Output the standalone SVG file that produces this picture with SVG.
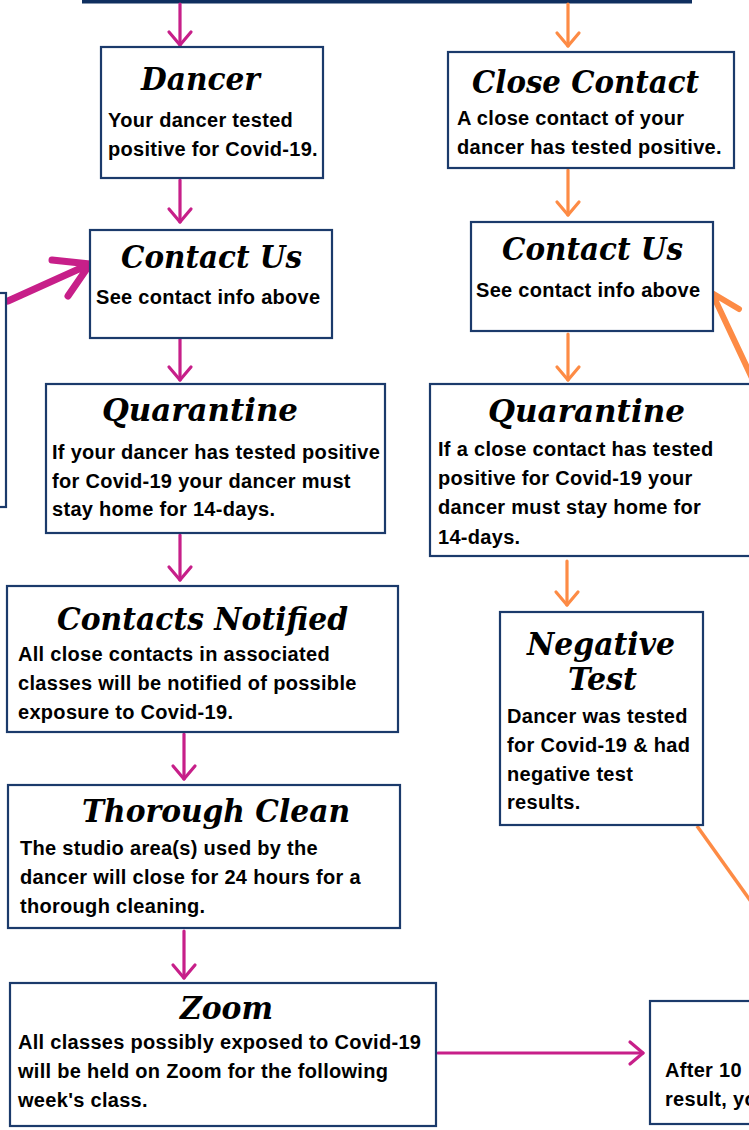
<svg xmlns="http://www.w3.org/2000/svg" width="749" height="1130" viewBox="0 0 749 1130">
<style>
.box{fill:#fff;stroke:#1b3a6b;stroke-width:2.2}
.ttl{font-family:"DejaVu Serif","Liberation Serif",serif;font-weight:bold;font-style:italic;font-size:31px;fill:#000}
.txt{font-family:"Liberation Sans",Arial,sans-serif;font-weight:bold;font-size:20px;letter-spacing:0.3px;fill:#000}
.mg{stroke:#c71f89;stroke-width:3.2;fill:none;stroke-linecap:round;stroke-linejoin:round}
.og{stroke:#fd8b45;stroke-width:3.2;fill:none;stroke-linecap:round;stroke-linejoin:round}
</style>
<defs>
<marker id="hm" markerUnits="userSpaceOnUse" orient="auto" refX="0" refY="0" markerWidth="20" markerHeight="30" overflow="visible">
<path d="M-13,-11 L0,0 L-13,11" fill="none" stroke="#c71f89" stroke-width="3.2" stroke-linecap="round" stroke-linejoin="round"/>
</marker>
<marker id="ho" markerUnits="userSpaceOnUse" orient="auto" refX="0" refY="0" markerWidth="20" markerHeight="30" overflow="visible">
<path d="M-13,-11 L0,0 L-13,11" fill="none" stroke="#fd8b45" stroke-width="3.2" stroke-linecap="round" stroke-linejoin="round"/>
</marker>
</defs>
<rect width="749" height="1130" fill="#fff"/>
<rect x="82" y="0" width="610" height="3.5" fill="#0f2f5f"/>

<g id="connectors">
<line class="mg" x1="180" y1="4" x2="180" y2="45" marker-end="url(#hm)"/>
<line class="og" x1="568" y1="4" x2="568" y2="46" marker-end="url(#ho)"/>
<line class="mg" x1="180" y1="180" x2="180" y2="222" marker-end="url(#hm)"/>
<line class="og" x1="568" y1="170" x2="568" y2="215" marker-end="url(#ho)"/>
<line class="mg" x1="180" y1="339" x2="180" y2="380" marker-end="url(#hm)"/>
<line class="og" x1="568" y1="334" x2="568" y2="380" marker-end="url(#ho)"/>
<line class="mg" x1="180" y1="535" x2="180" y2="580" marker-end="url(#hm)"/>
<line class="og" x1="567" y1="561" x2="567" y2="605" marker-end="url(#ho)"/>
<line class="mg" x1="184" y1="734" x2="184" y2="779" marker-end="url(#hm)"/>
<line class="mg" x1="184" y1="931" x2="184" y2="978" marker-end="url(#hm)"/>
<line class="mg" x1="438" y1="1053" x2="643" y2="1053" marker-end="url(#hm)"/>
<path d="M8,301 L90,264 M52,260 L90,264 L68,296" fill="none" stroke="#c71f89" stroke-width="7" stroke-linecap="round" stroke-linejoin="round"/>
<path d="M760,395 L712,293 M709,324 L712,293 L739,309" fill="none" stroke="#fd8b45" stroke-width="6" stroke-linecap="round" stroke-linejoin="round"/>
<line x1="697" y1="826" x2="752" y2="903" stroke="#fd8b45" stroke-width="3.5"/>
</g>

<g id="node-left-partial"><rect class="box" x="-20" y="293" width="26" height="214"/></g>

<g id="node-dancer">
<rect class="box" x="101" y="47" width="222" height="131"/>
<text class="ttl" x="141" y="90" textLength="119" lengthAdjust="spacingAndGlyphs">Dancer</text>
<text class="txt" x="108" y="127">Your dancer tested</text>
<text class="txt" x="108" y="156">positive for Covid-19.</text>
</g>

<g id="node-close-contact">
<rect class="box" x="448" y="52" width="286" height="116"/>
<text class="ttl" x="472" y="93" textLength="227" lengthAdjust="spacingAndGlyphs">Close Contact</text>
<text class="txt" x="457" y="125">A close contact of your</text>
<text class="txt" x="457" y="154">dancer has tested positive.</text>
</g>

<g id="node-contact-us-left">
<rect class="box" x="90" y="230" width="242" height="108"/>
<text class="ttl" x="121" y="268" textLength="181" lengthAdjust="spacingAndGlyphs">Contact Us</text>
<text class="txt" x="96" y="304">See contact info above</text>
</g>

<g id="node-contact-us-right">
<rect class="box" x="471" y="222" width="242" height="109"/>
<text class="ttl" x="502" y="260" textLength="181" lengthAdjust="spacingAndGlyphs">Contact Us</text>
<text class="txt" x="476" y="297">See contact info above</text>
</g>

<g id="node-quarantine-left">
<rect class="box" x="46" y="384" width="339" height="149"/>
<text class="ttl" x="102" y="421" textLength="196" lengthAdjust="spacingAndGlyphs">Quarantine</text>
<text class="txt" x="52" y="459">If your dancer has tested positive</text>
<text class="txt" x="52" y="488">for Covid-19 your dancer must</text>
<text class="txt" x="52" y="516">stay home for 14-days.</text>
</g>

<g id="node-quarantine-right">
<rect class="box" x="430" y="384" width="340" height="172"/>
<text class="ttl" x="488" y="422" textLength="197" lengthAdjust="spacingAndGlyphs">Quarantine</text>
<text class="txt" x="438" y="456">If a close contact has tested</text>
<text class="txt" x="438" y="485">positive for Covid-19 your</text>
<text class="txt" x="438" y="514">dancer must stay home for</text>
<text class="txt" x="438" y="544">14-days.</text>
</g>

<g id="node-negative-test">
<rect class="box" x="500" y="612" width="203" height="213"/>
<text class="ttl" x="527" y="655" textLength="148" lengthAdjust="spacingAndGlyphs">Negative</text>
<text class="ttl" x="568" y="690" textLength="69" lengthAdjust="spacingAndGlyphs">Test</text>
<text class="txt" x="507" y="723">Dancer was tested</text>
<text class="txt" x="507" y="752">for Covid-19 &amp; had</text>
<text class="txt" x="507" y="781">negative test</text>
<text class="txt" x="507" y="809">results.</text>
</g>

<g id="node-contacts-notified">
<rect class="box" x="7" y="586" width="391" height="146"/>
<text class="ttl" x="57" y="630" textLength="291" lengthAdjust="spacingAndGlyphs">Contacts Notified</text>
<text class="txt" x="18" y="661">All close contacts in associated</text>
<text class="txt" x="18" y="690">classes will be notified of possible</text>
<text class="txt" x="18" y="719">exposure to Covid-19.</text>
</g>

<g id="node-thorough-clean">
<rect class="box" x="8" y="785" width="392" height="143"/>
<text class="ttl" x="82" y="822" textLength="268" lengthAdjust="spacingAndGlyphs">Thorough Clean</text>
<text class="txt" x="20" y="855">The studio area(s) used by the</text>
<text class="txt" x="20" y="884">dancer will close for 24 hours for a</text>
<text class="txt" x="20" y="913">thorough cleaning.</text>
</g>

<g id="node-zoom">
<rect class="box" x="10" y="983" width="426" height="143"/>
<text class="ttl" x="180" y="1019" textLength="93" lengthAdjust="spacingAndGlyphs">Zoom</text>
<text class="txt" x="18" y="1049">All classes possibly exposed to Covid-19</text>
<text class="txt" x="18" y="1078">will be held on Zoom for the following</text>
<text class="txt" x="18" y="1107">week's class.</text>
</g>

<g id="node-bottom-right">
<rect class="box" x="650" y="1001" width="120" height="123"/>
<text class="txt" x="665" y="1077">After 10</text>
<text class="txt" x="665" y="1106">result, yo</text>
</g>
</svg>
